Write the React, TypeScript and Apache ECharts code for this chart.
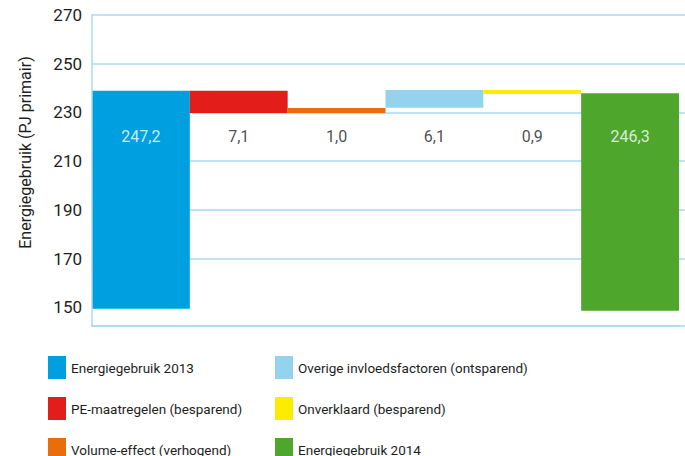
import React, { useEffect, useRef } from "react";
import * as echarts from "echarts";

const categories = [
  "Energiegebruik 2013",
  "PE-maatregelen (besparend)",
  "Volume-effect (verhogend)",
  "Overige invloedsfactoren (ontsparend)",
  "Onverklaard (besparend)",
  "Energiegebruik 2014",
];
const barBottoms = [149.5, 229.8, 229.8, 231.9, 237.6, 148.7];
const barTops = [238.9, 238.9, 231.8, 239.2, 239.2, 237.9];
const labelValues = [247.2, 7.1, 1.0, 6.1, 0.9, 246.3];
const labelLevel = 220;
const yTickLabels = [150, 170, 190, 210, 230, 250, 270];
const yGridValues = [170, 190, 210, 230, 250, 270];
const colors = ["#009FDF", "#E31D1A", "#EA6D0B", "#94D3EE", "#FFEB00", "#4EA72C"];
const labelColors = ["#FFFFFF", "#222222", "#222222", "#222222", "#222222", "#FFFFFF"];

const FONT = 'Roboto, "Noto Sans", sans-serif';
const GRID = "#A8DAF0";
const Y_MIN = 142.4;
const Y_MAX = 270;

export default function App() {
  const ref = useRef<HTMLDivElement>(null);
  useEffect(() => {
    if (!ref.current) return;
    const chart = echarts.init(ref.current, undefined, { renderer: "svg" });
    const series: any[] = [
      {
        type: "bar",
        stack: "w",
        silent: true,
        itemStyle: { color: "transparent" },
        data: barBottoms,
        barCategoryGap: "0%",
      },
    ];
    categories.forEach((c, i) => {
      series.push({
        type: "bar",
        name: c,
        stack: "w",
        barCategoryGap: "0%",
        itemStyle: { color: colors[i] },
        data: categories.map((_, j) => (j === i ? +(barTops[i] - barBottoms[i]).toFixed(2) : "-")),
      });
    });
    series.push({
      type: "scatter",
      symbolSize: 0,
      silent: true,
      z: 10,
      data: categories.map((c, i) => ({
        value: [c, labelLevel],
        label: {
          show: true,
          position: "inside",
          formatter: labelValues[i].toFixed(1).replace(".", ","),
          color: labelColors[i],
          fontSize: 16,
          fontFamily: FONT,
        },
      })),
    });
    const legendCommon = {
      orient: "vertical",
      icon: "rect",
      itemWidth: 18,
      itemHeight: 23,
      itemGap: 18,
      top: 351,
      height: 140,
      selectedMode: false,
      textStyle: { fontSize: 13.5, color: "#1E1E1E", fontFamily: FONT },
    };
    chart.setOption({
      animation: false,
      color: colors,
      grid: [
        { left: 92, right: 6, top: 15, bottom: 130 },
        { left: 92, right: 0, top: 15, bottom: 130 },
      ],
      legend: [
        { ...legendCommon, left: 43, data: categories.slice(0, 3) },
        { ...legendCommon, left: 270, data: categories.slice(3, 6) },
      ],
      xAxis: [
        {
          type: "category",
          gridIndex: 0,
          data: categories,
          axisLine: { show: true, lineStyle: { color: GRID, width: 1.5 } },
          axisTick: { show: false },
          axisLabel: { show: false },
          z: 3,
        },
        {
          type: "value",
          gridIndex: 1,
          min: 0,
          max: 1,
          axisLine: { show: true, lineStyle: { color: GRID, width: 1.5 } },
          axisTick: { show: false },
          axisLabel: { show: false },
          splitLine: { show: false },
        },
      ],
      yAxis: [
        {
          type: "value",
          gridIndex: 0,
          min: Y_MIN,
          max: Y_MAX,
          name: "Energiegebruik (PJ primair)",
          nameLocation: "middle",
          nameGap: 59,
          nameTextStyle: { fontSize: 16, color: "#1E1E1E", fontFamily: FONT, padding: [0, 0, 0, 36] },
          axisLine: { show: true, lineStyle: { color: GRID, width: 1.5 } },
          axisTick: { show: false, customValues: yGridValues },
          axisLabel: {
            customValues: yTickLabels,
            fontSize: 17,
            color: "#1E1E1E",
            margin: 10,
            fontFamily: FONT,
          },
          splitLine: { show: false },
          z: 3,
        },
        {
          type: "value",
          gridIndex: 1,
          min: Y_MIN,
          max: Y_MAX,
          axisLine: { show: false },
          axisTick: { show: false, customValues: yGridValues },
          axisLabel: { show: false, customValues: yGridValues },
          splitLine: { show: true, lineStyle: { color: GRID, width: 1.5 } },
          z: 0,
        },
      ],
      series,
    });
    return () => chart.dispose();
  }, []);
  return <div ref={ref} style={{ width: 685, height: 456, position: "absolute", left: 0, top: 0 }} />;
}
